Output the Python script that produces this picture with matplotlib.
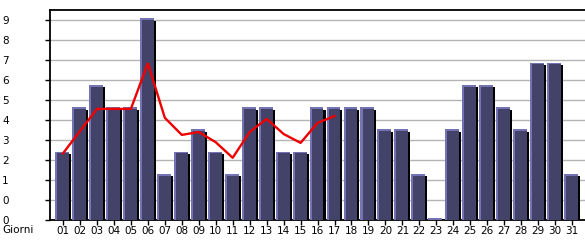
import matplotlib
matplotlib.use("Agg")
import matplotlib.pyplot as plt
import numpy as np

# visite giornaliere (barre) e media (linea rossa)
days = ['01', '02', '03', '04', '05', '06', '07', '08', '09', '10', '11', '12', '13', '14', '15', '16',
        '17', '18', '19', '20', '21', '22', '23', '24', '25', '26', '27', '28', '29', '30', '31']
visits = [3, 5, 6, 5, 5, 9, 2, 3, 4, 3, 2, 5, 5, 3, 3, 5, 5, 5, 5, 4, 4, 2, 0, 4, 6, 6, 5, 4, 7, 7, 2]
avg_line = [3.0, 4.0, 5.0, 5.0, 5.0, 7.05, 4.6, 3.83, 3.96, 3.5, 2.8, 3.96, 4.55, 3.87, 3.47, 4.37, 4.68]
y_max = 9
y_tick_labels = ['0', '0', '1', '2', '3', '4', '5', '6', '7', '8', '9']
x_title = 'Giorni'

dark = '#434369'
light = '#7474b4'

fig = plt.figure(figsize=(5.85, 2.4), dpi=100)
ax = fig.add_axes([50 / 585, 20 / 240, 535 / 585, 210 / 240])

x = np.arange(1, len(days) + 1)
h = np.array(visits, dtype=float)

# ombra nera a destra, bordo chiaro a sinistra/sopra, corpo scuro
ax.bar(x + 0.06, np.maximum(h - 0.03, 0.05), width=0.82, color='black', zorder=2)
ax.bar(x - 0.06, h + 0.08, width=0.82, color=light, zorder=3)
ax.bar(x + 0.0, h, width=0.70, color=dark, zorder=4)

ax.plot(x[:len(avg_line)], avg_line, color='#ee0000', lw=1.7, zorder=5)

ticks = [i * y_max / 10 for i in range(11)]
ax.set_yticks(ticks)
ax.set_yticklabels(y_tick_labels)
ax.set_xticks(x)
ax.set_xticklabels(days)
ax.set_xlim(0.234, 31.76)
ax.set_ylim(0, y_max * 1.05)

ax.yaxis.grid(True, color='#b4b4b4', lw=1.0, zorder=0)
ax.set_axisbelow(True)
ax.tick_params(axis='y', length=3.6, width=1, pad=26, labelsize=7.5)
ax.tick_params(axis='x', length=3.6, width=1, pad=1, labelsize=7.5)
for lab in ax.get_yticklabels():
    lab.set_horizontalalignment('right')

ax.spines['right'].set_visible(False)
for s in ['left', 'bottom', 'top']:
    ax.spines[s].set_linewidth(1.3)

fig.text(2 / 585, 1 - 230 / 240, x_title, fontsize=7.5, ha='left', va='center')

fig.savefig('out.png', dpi=100)
